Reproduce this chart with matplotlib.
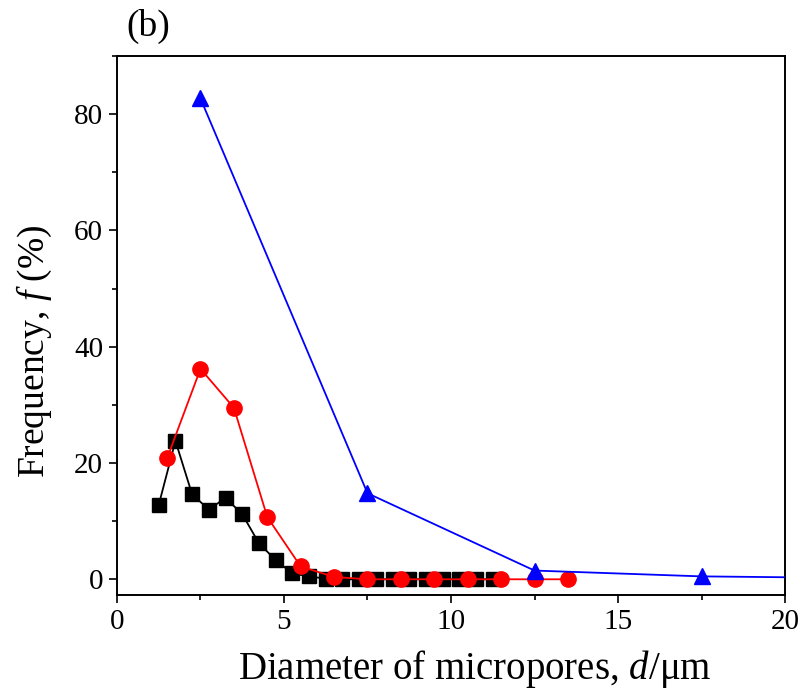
import matplotlib
matplotlib.use("Agg")
import matplotlib.pyplot as plt
from matplotlib.ticker import MultipleLocator

plt.rcParams['font.family'] = ['Liberation Serif', 'DejaVu Serif']
plt.rcParams['mathtext.fontset'] = 'custom'
plt.rcParams['mathtext.rm'] = 'Liberation Serif'
plt.rcParams['mathtext.it'] = 'Liberation Serif:italic'

# Data
sq_x = [1.25, 1.75, 2.25, 2.75, 3.25, 3.75, 4.25, 4.75, 5.25, 5.75, 6.25,
        6.75, 7.25, 7.75, 8.25, 8.75, 9.25, 9.75, 10.25, 10.75, 11.25]
sq_y = [12.8, 23.8, 14.6, 12.0, 14.0, 11.2, 6.2, 3.3, 1.0, 0.5, 0.1,
        0.0, 0.0, 0.0, 0.0, 0.0, 0.0, 0.0, 0.0, 0.0, 0.0]

ci_x = [1.5, 2.5, 3.5, 4.5, 5.5, 6.5, 7.5, 8.5, 9.5, 10.5, 11.5, 12.5, 13.5]
ci_y = [20.8, 36.2, 29.5, 10.7, 2.2, 0.4, 0.0, 0.0, 0.0, 0.0, 0.0, 0.0, 0.0]

tr_x = [2.5, 7.5, 12.5, 17.5, 22.5]
tr_y = [82.7, 14.8, 1.5, 0.5, 0.2]

fig = plt.figure(figsize=(8.04, 6.92), dpi=100)
ax = fig.add_axes([0.1455, 0.1402, 0.8309, 0.7788])

ax.plot(sq_x, sq_y, color='black', lw=1.3, marker='s', ms=10,
        markerfacecolor='black', markeredgecolor='black', zorder=3)
ax.plot(ci_x, ci_y, color='red', lw=1.3, marker='o', ms=11,
        markerfacecolor='red', markeredgecolor='red', zorder=4)
ax.plot(tr_x, tr_y, color='blue', lw=1.3, marker='^', ms=11.5,
        markerfacecolor='blue', markeredgecolor='blue', zorder=5, clip_on=True)

ax.set_xlim(0, 20)
ax.set_ylim(-2.7, 90)
ax.xaxis.set_major_locator(MultipleLocator(5))
ax.xaxis.set_minor_locator(MultipleLocator(2.5))
ax.yaxis.set_major_locator(MultipleLocator(20))
ax.yaxis.set_minor_locator(MultipleLocator(10))

ax.tick_params(which='both', direction='out', top=False, right=False,
               width=1.2, labelsize=21)
ax.tick_params(which='major', length=6, pad=4)
ax.tick_params(which='minor', length=3.5)
for s in ax.spines.values():
    s.set_linewidth(1.4)

ax.set_xlabel('Diameter of micropores, $d$/μm', fontsize=28)
ax.set_ylabel('Frequency, $f$ (%)', fontsize=27)
ax.xaxis.set_label_coords(0.536, -0.098)
ax.yaxis.set_label_coords(-0.094, 0.452)

fig.text(0.184, 0.962, '(b)', fontsize=27, ha='center', va='center')

fig.savefig('out.png', dpi=100)
